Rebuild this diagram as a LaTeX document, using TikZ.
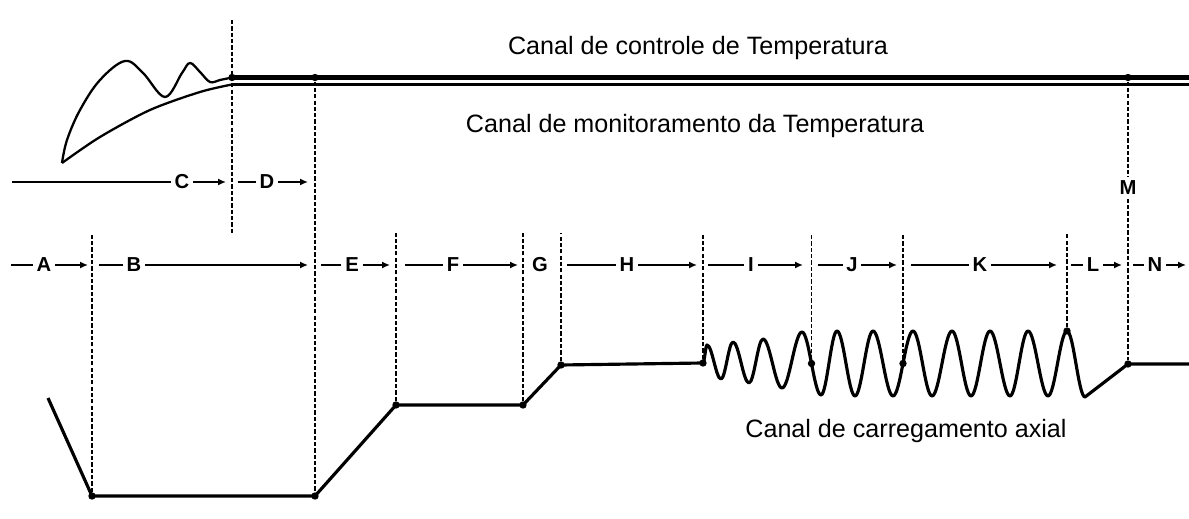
\documentclass[tikz,border=0pt]{standalone}
\usepackage{fontspec}
\setmainfont{Liberation Sans}
\usetikzlibrary{arrows.meta}
\tikzset{
  ponto/.style={circle,fill,inner sep=0pt,minimum size=4.2pt},
  seta/.style={-{Latex[length=4.5pt,width=4pt]}},
  sinal/.style={line width=1.8pt,line join=round},
  trac/.style={line width=1.1pt,dash pattern=on 2.4pt off 1.2pt},
  eixo/.style={line width=1.6pt},
  letra/.style={font=\bfseries\fontsize{11.5}{13}\selectfont,inner sep=2pt},
  canal/.style={font=\fontsize{14.3}{16}\selectfont,anchor=base},
}

\begin{document}
\begin{tikzpicture}[x=0.02cm,y=-0.02cm]
  \useasboundingbox (0,0) rectangle (1189,519);
  % canais de temperatura
  \draw[line width=2.6pt] (232,77.5) -- (1189,77.5);
  \draw[line width=1.2pt] (232,84.5) -- (1189,84.5);
  \draw[line width=1.3pt] plot[smooth,tension=0.6] coordinates {(62,163) (67,140) (80,110)
    (100,80) (125,61) (143,73) (165,97) (182,73) (190,63) (200,72) (210,82) (220,80) (232,77.5)};
  \draw[line width=1.3pt] plot[smooth] coordinates {(62,163) (100,137) (150,110) (200,92) (232,84.5)};
  \node[canal] (ctrl) at (698,55) {Canal de controle de Temperatura};
  \node[canal] (mon) at (695,133) {Canal de monitoramento da Temperatura};
  \node[canal] (axial) at (906,438) {Canal de carregamento axial};
  % pontos
  \node[ponto] (t1) at (232,77.5) {}; \node[ponto] (t2) at (315,77.5) {};
  \node[ponto] (t3) at (1128,77.5) {};
  \node[ponto] (s1) at (92,496) {}; \node[ponto] (s2) at (315,496) {};
  \node[ponto] (s3) at (396,405) {}; \node[ponto] (s4) at (523,405) {};
  \node[ponto] (s5) at (561,365) {}; \node[ponto] (s6) at (703,363) {};
  \node[ponto] (s7) at (811.5,363.5) {}; \node[ponto] (s8) at (903,363.5) {};
  \node[ponto] (s9) at (1067,331) {}; \node[ponto] (s10) at (1128,364) {};
  % linhas tracejadas
  \draw[trac] (232,20) -- (232,233);
  \draw[trac] (t2) -- (s2);
  \foreach \p/\x in {s1/92,s3/396,s4/523,s5/561,s6/703,s7/811.5,s8/903,s9/1067}
    \draw[trac] (\p) -- (\x,233);
  \node[letra] (M) at (1128,188) {M};
  \draw[trac] (t3) -- (M); \draw[trac] (M) -- (s10);
  % fases C e D
  \node[letra] (C) at (182,182) {C}; \node[letra] (D) at (267,182) {D};
  \draw[line width=1.1pt] (12,182) -- (C); \draw[line width=1.1pt,seta] (C) -- (226,182);
  \draw[line width=1.1pt] (238,182) -- (D); \draw[line width=1.1pt,seta] (D) -- (308,182);
  % fases A ... N
  \foreach \nome/\ini/\pos/\fim in {A/11/44/88,B/99/134/308,E/321/352/390,F/405/453/518,
      H/567/627/697,I/708/751/803,J/818/852/897,K/911/980/1057,L/1071/1093/1122,N/1133/1155/1186} {
    \node[letra] (\nome) at (\pos,265) {\nome};
    \draw[eixo] (\ini,265) -- (\nome);
    \draw[eixo,seta] (\nome) -- (\fim,265);
  }
  \node[letra] (G) at (540,265) {G};
  % canal de carregamento
  \draw[sinal] (48,398) -- (s1.center) -- (s2.center) -- (s3.center) -- (s4.center)
    -- (s5.center) -- (s6.center);
  \draw[sinal] (s6.center)
    \foreach \x/\y [remember=\x as \px (initially 703),remember=\y as \py (initially 363)] in
      {707/345,721/379,733/342,749/383,763/339,782/388,802/332,821/395,837/331,855/396,
       873/331,893/396,913/331,932/396,952/331,971/396,990/331,1010/396,1028/331,1048/396,
       1067/331,1085/397}
      { cos ({(\px+\x)/2},{(\py+\y)/2}) sin (\x,\y) }
    -- (s10.center) -- (1189,364);
\end{tikzpicture}
\end{document}
